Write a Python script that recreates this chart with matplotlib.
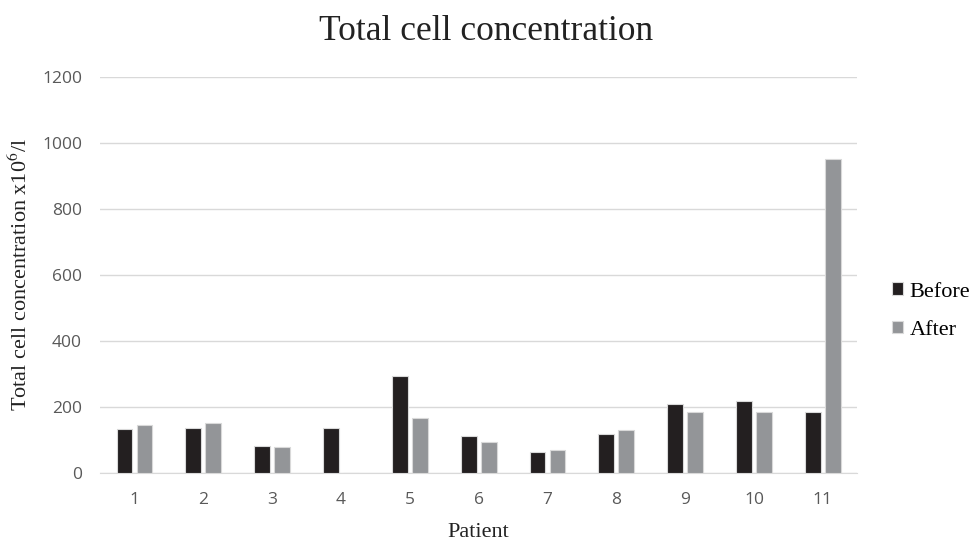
import matplotlib.pyplot as plt
import numpy as np

patients = ["1", "2", "3", "4", "5", "6", "7", "8", "9", "10", "11"]
before = [132, 137, 82, 137, 292, 112, 63, 116, 208, 218, 183]
after = [144, 151, 79, 0, 165, 92, 69, 131, 183, 183, 952]
yticks = [0, 200, 400, 600, 800, 1000, 1200]

plt.rcParams["mathtext.fontset"] = "stix"

fig = plt.figure(figsize=(9.73, 5.41), dpi=100)
ax = fig.add_axes([0.1028, 0.1262, 0.7782, 0.7318])

x = np.arange(len(patients))
w = 0.23
ax.bar(x - 0.145, before, width=w, color="#231f20", edgecolor="#d9d9d9", linewidth=0.8, label="Before", zorder=3)
ax.bar(x + 0.145, after, width=w, color="#939598", edgecolor="#d9d9d9", linewidth=0.8, label="After", zorder=3)

ax.set_xlim(-0.5, len(patients) - 0.5)
ax.set_ylim(0, 1200)
ax.set_yticks(yticks)
ax.set_xticks(x)
ax.set_xticklabels(patients)
ax.grid(axis="y", color="#d9d9d9", linewidth=1, zorder=0)
for s in ["top", "right", "left"]:
    ax.spines[s].set_visible(False)
ax.spines["bottom"].set_color("#d9d9d9")
ax.tick_params(length=0, labelsize=12.5, labelcolor="#595959", pad=13)
ax.tick_params(axis="x", pad=14)
for lab in ax.get_xticklabels() + ax.get_yticklabels():
    lab.set_family("Open Sans")

serif = "Liberation Serif"
fig.text(0.5, 1 - 40 / 541, "Total cell concentration", fontsize=25.5, family=serif,
         color="#222222", ha="center", va="baseline")
ax.set_xlabel("Patient", fontsize=16, family=serif, color="#222222")
ax.set_ylabel("Total cell concentration x10$^{6}$/l", fontsize=16, family=serif, color="#222222")
ax.xaxis.set_label_coords(0.5, -0.128)
ax.yaxis.set_label_coords(-0.09, 0.5)

fig.legend(loc="center left", bbox_to_anchor=(0.9167, 0.425), frameon=False, borderpad=0,
           borderaxespad=0, prop={"family": serif, "size": 16}, handlelength=0.5,
           handleheight=0.5, handletextpad=0.3, labelspacing=0.85)

fig.savefig("out.png", dpi=100)
